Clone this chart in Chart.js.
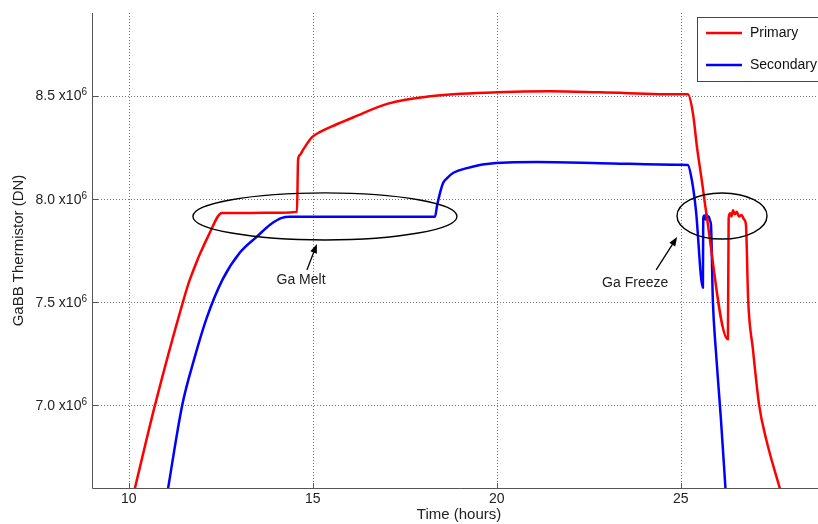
<!DOCTYPE html>
<html>
<head>
<meta charset="utf-8">
<script src="https://cdn.jsdelivr.net/npm/chart.js@4.4.1/dist/chart.umd.min.js"></script>
<style>
  html, body { margin: 0; padding: 0; background: #fff; overflow: hidden; }
  #wrap { width: 818px; height: 524px; overflow: hidden; }
</style>
</head>
<body>
<div id="wrap"><canvas id="gabb" width="840" height="524"></canvas></div>
<script>
/* ===== GaBB thermistor, Ga melt / freeze ===== */

const hourTicks = [10, 15, 20, 25];
const dnTicks = [7.0e6, 7.5e6, 8.0e6, 8.5e6];
const dnTickLabels = ['7.0', '7.5', '8.0', '8.5'];

const primaryHours = [10.14, 10.71, 11.47, 11.66, 12.20, 12.53, 13.30, 14.11, 14.57, 14.60, 14.65, 14.73, 14.98,
  15.20, 15.47, 15.74, 16.09, 17.02, 18.19, 20.01, 21.45, 22.80, 25.00, 25.19, 25.33, 25.44, 25.57, 25.68, 26.28,
  26.30, 26.34, 26.38, 26.42, 26.47, 26.52, 26.58, 26.65, 26.72, 26.77, 26.83, 26.96, 27.13, 27.32, 27.72];
const primaryDN = [6.58e6, 7.00e6, 7.50e6, 7.61e6, 7.836e6, 7.932e6, 7.932e6, 7.933e6, 7.937e6, 8.188e6, 8.212e6,
  8.236e6, 8.299e6, 8.324e6, 8.347e6, 8.368e6, 8.394e6, 8.46e6, 8.497e6, 8.516e6, 8.521e6, 8.516e6, 8.506e6,
  8.506e6, 8.414e6, 8.25e6, 8.09e6, 7.947e6, 7.32e6, 7.905e6, 7.93e6, 7.915e6, 7.945e6, 7.925e6, 7.938e6,
  7.915e6, 7.922e6, 7.90e6, 7.875e6, 7.513e6, 7.272e6, 7.0e6, 6.836e6, 6.58e6];

const secondaryHours = [11.05, 11.45, 11.77, 12.12, 12.55, 13.02, 13.48, 13.84, 14.16, 14.38, 16.00, 18.32, 18.38,
  18.54, 18.65, 18.81, 19.19, 19.73, 21.09, 22.80, 25.00, 25.19, 25.30, 25.41, 25.60, 25.61, 25.64, 25.67, 25.70,
  25.73, 25.76, 25.79, 25.82, 25.87, 25.95, 26.09, 26.22];
const secondaryDN = [6.58e6, 7.00e6, 7.22e6, 7.425e6, 7.61e6, 7.74e6, 7.817e6, 7.875e6, 7.908e6, 7.913e6, 7.913e6,
  7.913e6, 7.971e6, 8.077e6, 8.10e6, 8.125e6, 8.149e6, 8.169e6, 8.178e6, 8.173e6, 8.165e6, 8.164e6, 8.091e6,
  7.947e6, 7.57e6, 7.905e6, 7.92e6, 7.90e6, 7.925e6, 7.91e6, 7.915e6, 7.895e6, 7.874e6, 7.513e6, 7.272e6,
  6.934e6, 6.58e6];

// annotations in data coordinates
const notes = [
  { text: 'Ga Melt', tx: 14.68, ty: 7.607e6, from: [14.84, 7.656e6], to: [15.11, 7.781e6],
    ellipse: { cx: 15.33, cy: 7.915e6, rx: 3.587, ry: 0.1138e6 } },
  { text: 'Ga Freeze', tx: 23.76, ty: 7.593e6, from: [24.33, 7.656e6], to: [24.90, 7.815e6],
    ellipse: { cx: 26.12, cy: 7.917e6, rx: 1.223, ry: 0.1114e6 } }
];

const FONT = '"Liberation Sans", Arial, Helvetica, sans-serif';

function toPoints(xs, ys) {
  return xs.map((x, i) => ({ x: x, y: ys[i] }));
}

const axesPlugin = {
  id: 'matlabAxes',
  beforeDatasetsDraw(chart) {
    const { ctx, chartArea: a, scales: { x, y } } = chart;
    ctx.save();
    ctx.strokeStyle = '#777';
    ctx.lineWidth = 1;
    ctx.setLineDash([1, 2]);
    hourTicks.forEach(v => {
      const px = Math.round(x.getPixelForValue(v)) + 0.5;
      ctx.beginPath(); ctx.moveTo(px, a.top); ctx.lineTo(px, a.bottom); ctx.stroke();
    });
    dnTicks.forEach(v => {
      const py = Math.round(y.getPixelForValue(v)) + 0.5;
      ctx.beginPath(); ctx.moveTo(a.left, py); ctx.lineTo(a.right, py); ctx.stroke();
    });
    ctx.restore();
  },
  afterDatasetsDraw(chart) {
    const { ctx, chartArea: a, scales: { x, y } } = chart;
    ctx.save();

    // axis lines + inward ticks
    ctx.strokeStyle = '#555';
    ctx.lineWidth = 1;
    ctx.beginPath();
    ctx.moveTo(a.left + 0.5, a.top); ctx.lineTo(a.left + 0.5, a.bottom + 0.5); ctx.lineTo(a.right, a.bottom + 0.5);
    hourTicks.forEach(v => {
      const px = Math.round(x.getPixelForValue(v)) + 0.5;
      ctx.moveTo(px, a.bottom); ctx.lineTo(px, a.bottom - 5);
    });
    dnTicks.forEach(v => {
      const py = Math.round(y.getPixelForValue(v)) + 0.5;
      ctx.moveTo(a.left, py); ctx.lineTo(a.left + 6, py);
    });
    ctx.stroke();

    // tick labels
    ctx.fillStyle = '#222';
    ctx.font = '14px ' + FONT;
    ctx.textAlign = 'center';
    ctx.textBaseline = 'middle';
    hourTicks.forEach(v => ctx.fillText(String(v), x.getPixelForValue(v), a.bottom + 11));
    dnTicks.forEach((v, i) => {
      const py = y.getPixelForValue(v);
      ctx.font = '10px ' + FONT;
      const supW = ctx.measureText('6').width;
      ctx.textAlign = 'right';
      ctx.fillText('6', a.left - 5, py - 3);
      ctx.font = '14px ' + FONT;
      ctx.fillText(dnTickLabels[i] + ' x10', a.left - 5 - supW, py + 1);
    });

    // axis titles
    ctx.font = '15px ' + FONT;
    ctx.textAlign = 'center';
    ctx.fillText('Time (hours)', 459, a.bottom + 27);
    ctx.save();
    ctx.translate(19, (a.top + a.bottom) / 2);
    ctx.rotate(-Math.PI / 2);
    ctx.fillText('GaBB Thermistor (DN)', 0, 0);
    ctx.restore();

    // annotations
    ctx.strokeStyle = '#000';
    ctx.fillStyle = '#000';
    notes.forEach(n => {
      const e = n.ellipse;
      const cx = x.getPixelForValue(e.cx), cy = y.getPixelForValue(e.cy);
      const rx = x.getPixelForValue(e.cx + e.rx) - cx;
      const ry = cy - y.getPixelForValue(e.cy + e.ry);
      ctx.lineWidth = 1.4;
      ctx.beginPath(); ctx.ellipse(cx, cy, rx, ry, 0, 0, Math.PI * 2); ctx.stroke();

      const x0 = x.getPixelForValue(n.from[0]), y0 = y.getPixelForValue(n.from[1]);
      const x1 = x.getPixelForValue(n.to[0]), y1 = y.getPixelForValue(n.to[1]);
      const ang = Math.atan2(y1 - y0, x1 - x0);
      ctx.lineWidth = 1.3;
      ctx.beginPath(); ctx.moveTo(x0, y0);
      ctx.lineTo(x1 - 6 * Math.cos(ang), y1 - 6 * Math.sin(ang)); ctx.stroke();
      ctx.beginPath();
      ctx.moveTo(x1, y1);
      ctx.lineTo(x1 - 9 * Math.cos(ang) + 3.5 * Math.sin(ang), y1 - 9 * Math.sin(ang) - 3.5 * Math.cos(ang));
      ctx.lineTo(x1 - 9 * Math.cos(ang) - 3.5 * Math.sin(ang), y1 - 9 * Math.sin(ang) + 3.5 * Math.cos(ang));
      ctx.closePath(); ctx.fill();

      ctx.fillStyle = '#222';
      ctx.font = '14px ' + FONT;
      ctx.textAlign = 'center';
      ctx.textBaseline = 'middle';
      ctx.fillText(n.text, x.getPixelForValue(n.tx), y.getPixelForValue(n.ty));
      ctx.fillStyle = '#000';
    });

    // legend
    ctx.fillStyle = '#fff';
    ctx.fillRect(697.5, 17.5, 140, 64);
    ctx.strokeStyle = '#444';
    ctx.lineWidth = 1;
    ctx.strokeRect(697.5, 17.5, 140, 64);
    chart.data.datasets.forEach((ds, i) => {
      const ly = 33 + i * 32;
      ctx.strokeStyle = ds.borderColor;
      ctx.lineWidth = 2.5;
      ctx.beginPath(); ctx.moveTo(706, ly); ctx.lineTo(742, ly); ctx.stroke();
      ctx.fillStyle = '#111';
      ctx.font = '14px ' + FONT;
      ctx.textAlign = 'left';
      ctx.textBaseline = 'middle';
      ctx.fillText(ds.label, 750, ly);
    });

    ctx.restore();
  }
};

new Chart(document.getElementById('gabb').getContext('2d'), {
  type: 'line',
  data: {
    datasets: [
      { label: 'Primary', data: toPoints(primaryHours, primaryDN), borderColor: '#ff0000' },
      { label: 'Secondary', data: toPoints(secondaryHours, secondaryDN), borderColor: '#0000ff' }
    ]
  },
  options: {
    responsive: false,
    devicePixelRatio: 1,
    animation: false,
    layout: { padding: { left: 92, top: 13, right: 12, bottom: 36 } },
    elements: {
      line: { borderWidth: 2.5, cubicInterpolationMode: 'monotone', borderJoinStyle: 'round', fill: false },
      point: { radius: 0, hoverRadius: 0 }
    },
    scales: {
      x: { type: 'linear', min: 9, max: 29, display: false },
      y: { type: 'linear', min: 6.6e6, max: 8.9e6, display: false }
    },
    plugins: {
      legend: { display: false },
      tooltip: { enabled: false }
    }
  },
  plugins: [axesPlugin]
});
</script>
</body>
</html>
